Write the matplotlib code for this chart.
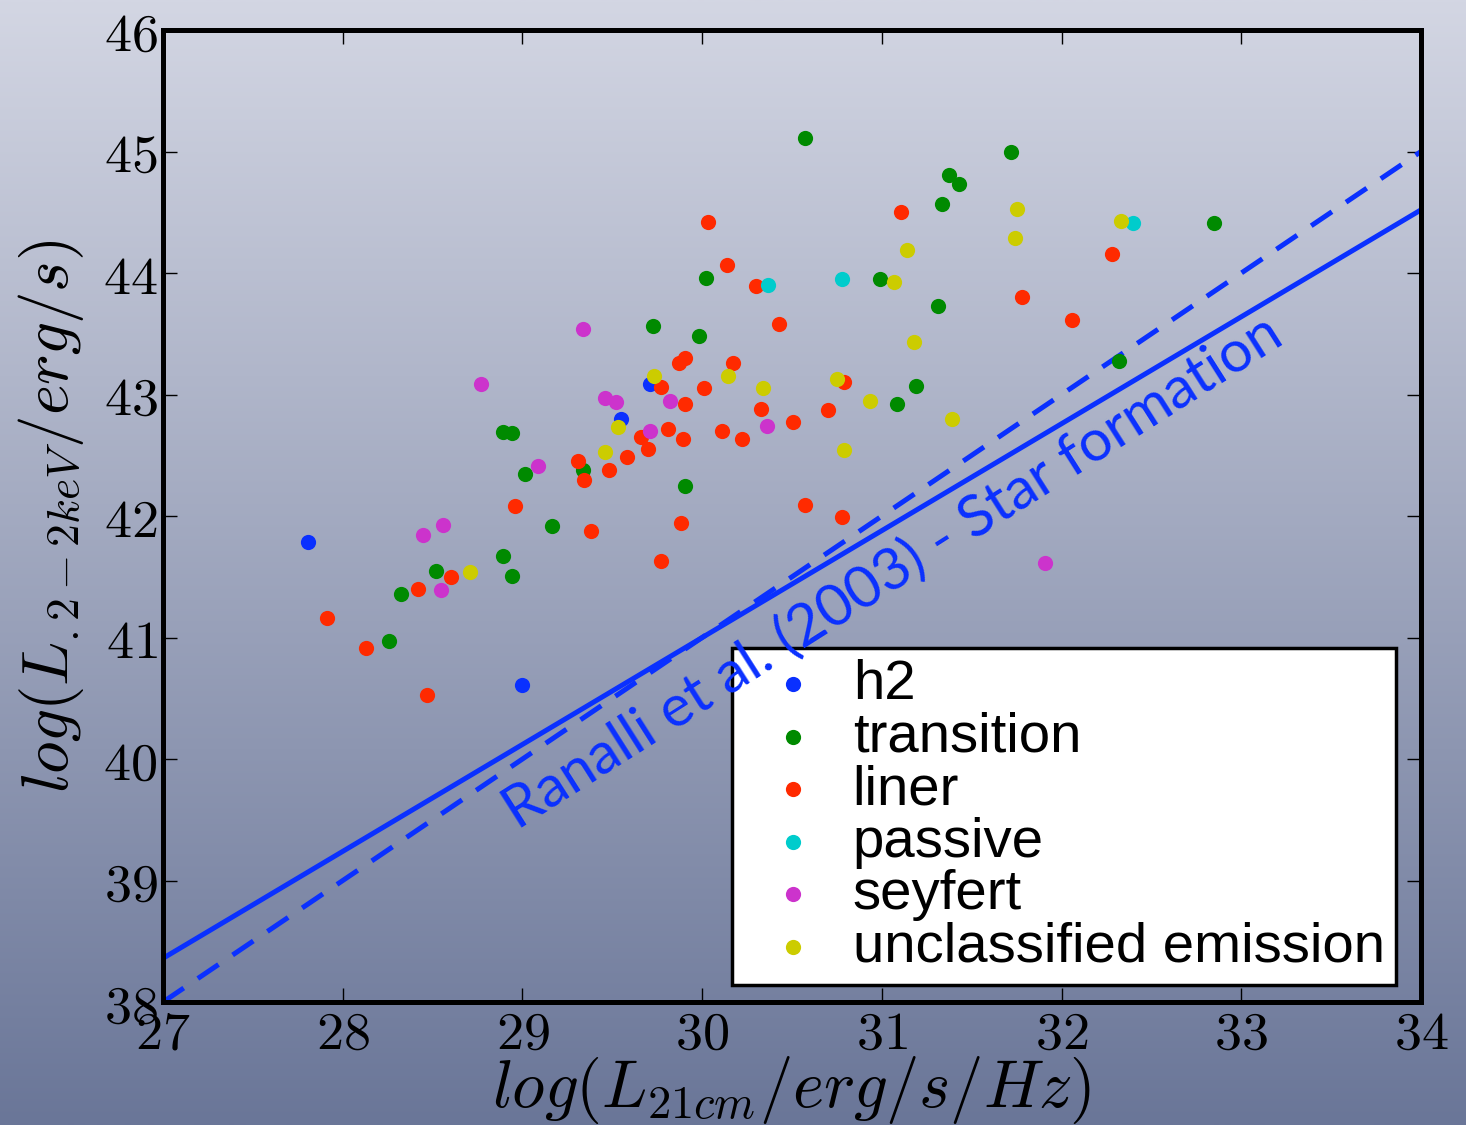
import numpy as np
import matplotlib
matplotlib.use("Agg")
import matplotlib.pyplot as plt

plt.rcParams["mathtext.fontset"] = "cm"

# --- data: log L(21cm) [erg/s/Hz] vs log L(0.2-2 keV) [erg/s] per class ---
h2_x = [27.805, 29.71, 29.55, 29.00]
h2_y = [41.79, 43.09, 42.80, 40.61]

transition_x = [29.725, 28.89, 28.94, 29.335, 29.015, 29.165, 28.89, 28.94, 28.52,
                28.325, 28.26, 31.335, 30.02, 30.99, 31.31, 29.98, 31.19, 31.085,
                29.905, 31.72, 31.375, 31.43, 32.85, 32.32, 30.575]
transition_y = [43.56, 42.69, 42.68, 42.38, 42.35, 41.92, 41.67, 41.51, 41.55,
                41.36, 40.97, 44.57, 43.96, 43.95, 43.73, 43.48, 43.07, 42.92,
                42.25, 45.00, 44.81, 44.73, 44.41, 43.28, 45.11]

liner_x = [29.87, 29.77, 29.66, 29.81, 29.70, 29.58, 29.31, 29.345, 29.48, 28.96,
           29.38, 29.77, 28.605, 28.42, 27.91, 28.13, 28.47, 30.033, 31.107, 30.14,
           30.30, 30.43, 29.905, 30.17, 30.01, 30.79, 29.905, 29.895, 30.11, 30.22,
           30.33, 30.505, 30.70, 30.57, 30.78, 29.885, 32.28, 31.78, 32.06]
liner_y = [43.26, 43.06, 42.65, 42.72, 42.55, 42.49, 42.45, 42.30, 42.38, 42.08,
           41.88, 41.63, 41.50, 41.40, 41.16, 40.91, 40.53, 44.42, 44.50, 44.07,
           43.89, 43.58, 43.30, 43.26, 43.05, 43.10, 42.92, 42.63, 42.70, 42.63,
           42.88, 42.77, 42.87, 42.09, 41.99, 41.94, 44.16, 43.80, 43.61]

passive_x = [30.365, 30.78, 32.395]
passive_y = [43.90, 43.95, 44.41]

seyfert_x = [29.335, 28.77, 29.46, 29.52, 29.82, 29.71, 29.085, 28.56, 28.445,
             28.545, 30.36, 31.91]
seyfert_y = [43.54, 43.09, 42.97, 42.94, 42.95, 42.70, 42.41, 41.93, 41.84,
             41.39, 42.74, 41.61]

unclassified_x = [29.73, 29.53, 29.46, 28.71, 31.14, 31.07, 31.18, 30.145, 30.34,
                  30.75, 30.935, 31.39, 30.79, 31.75, 31.74, 32.33]
unclassified_y = [43.15, 42.73, 42.53, 41.54, 44.19, 43.93, 43.43, 43.15, 43.05,
                  43.13, 42.95, 42.80, 42.54, 44.53, 44.29, 44.43]

class_names = ["h2", "transition", "liner", "passive", "seyfert",
               "unclassified emission"]
class_colors = ["#0a30ff", "#008a00", "#ff2a00", "#00cccc", "#cc33cc", "#cccc00"]

# Ranalli et al. (2003) star-formation relations: (slope, intercept)
sf_solid = (0.88, 14.6)
sf_dashed = (1.0, 11.0)

x_ticks = [27, 28, 29, 30, 31, 32, 33, 34]
y_ticks = [38, 39, 40, 41, 42, 43, 44, 45, 46]

# --- figure ---
fig = plt.figure(figsize=(14.66, 11.25), dpi=100)

# vertical background gradient
bg = fig.add_axes([0, 0, 1, 1], zorder=-10)
top = np.array([211, 214, 227]) / 255.0
bot = np.array([106, 118, 152]) / 255.0
t = np.linspace(0, 1, 256)[:, None]
grad = (top[None, :] * (1 - t) + bot[None, :] * t)[:, None, :]
bg.imshow(grad, aspect="auto", extent=[0, 1, 0, 1], interpolation="bilinear")
bg.set_axis_off()

ax = fig.add_axes([0.1112, 0.1093, 0.8581, 0.864])
ax.set_facecolor("none")

series = [(h2_x, h2_y), (transition_x, transition_y), (liner_x, liner_y),
          (passive_x, passive_y), (seyfert_x, seyfert_y),
          (unclassified_x, unclassified_y)]
for (xs, ys), name, col in zip(series, class_names, class_colors):
    ax.scatter(xs, ys, s=120, c=col, linewidths=0, label=name, zorder=3)

xl = np.array([x_ticks[0], x_ticks[-1]], dtype=float)
ax.plot(xl, sf_solid[0] * xl + sf_solid[1], color="#0a30ff", lw=3.6, zorder=2)
ax.plot(xl, sf_dashed[0] * xl + sf_dashed[1], color="#0a30ff", lw=3.6,
        dashes=(5, 3.4), zorder=2)

ax.text(31.06, 41.54, "Ranalli et al. (2003) - Star formation",
        family="Lato", fontsize=42, color="#0a30ff", rotation=32.4,
        rotation_mode="anchor", ha="center", va="center", zorder=7)

ax.set_xlim(x_ticks[0], x_ticks[-1])
ax.set_ylim(y_ticks[0], y_ticks[-1])
ax.set_xticks(x_ticks)
ax.set_yticks(y_ticks)
ax.set_xticklabels([r"$%d$" % v for v in x_ticks])
ax.set_yticklabels([r"$%d$" % v for v in y_ticks])
ax.tick_params(direction="in", length=10, width=1, top=True, right=True,
               labelsize=39, pad=4)
for sp in ax.spines.values():
    sp.set_linewidth(3.6)

ax.set_xlabel(r"$log(L_{21cm}/erg/s/Hz)$", fontsize=48, labelpad=-4)
ax.set_ylabel(r"$log(L_{.2-2keV}/erg/s)$", fontsize=47, labelpad=12)

leg = ax.legend(loc="lower right", bbox_to_anchor=(0.9801, 0.0175),
                prop={"family": "Liberation Sans", "size": 40.6},
                scatterpoints=1, frameon=True, fancybox=False, framealpha=1,
                edgecolor="black", handlelength=1.76, handletextpad=0.18,
                labelspacing=0.01, borderpad=0.2, borderaxespad=0)
leg.get_frame().set_linewidth(2.5)
leg.set_zorder(5)

fig.savefig("out.png", dpi=100)
